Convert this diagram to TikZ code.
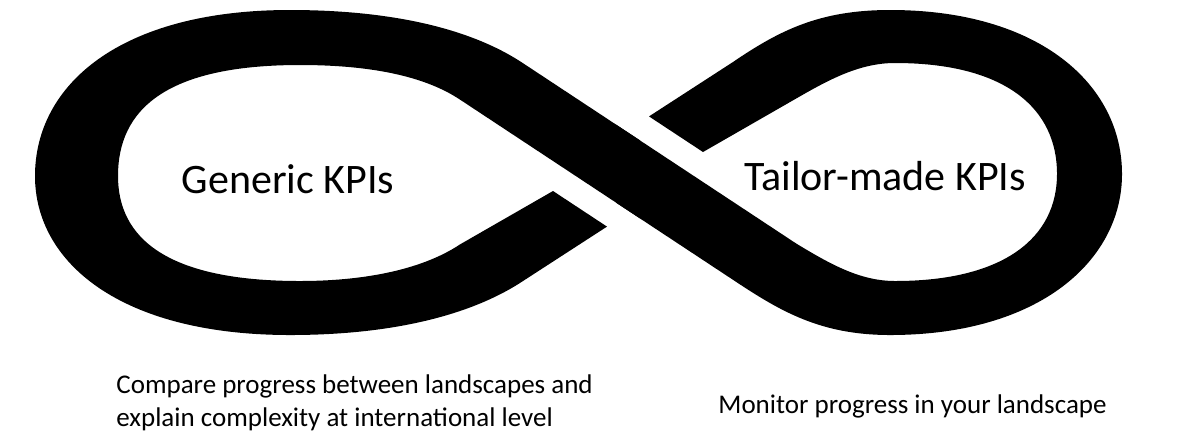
\documentclass[tikz,border=0pt]{standalone}
\usepackage{fontspec}
\setmainfont{Carlito}
\usepackage{tikz}
\usetikzlibrary{positioning}

\tikzset{
  loopband/.style={fill=black,draw=none},
  kpi/.style={inner sep=0pt,font=\fontsize{21}{25}\selectfont},
  note/.style={inner sep=0pt,align=left,font=\fontsize{13.5}{16.5}\selectfont}
}

\begin{document}
\begin{tikzpicture}[x=0.5pt,y=-0.5pt]
    \useasboundingbox (0,0) rectangle (1202,436);
    % left loop, with the upper half of the crossing
    \fill[loopband] (640,140.4) -- (523,63.2)
        .. controls (470,28) and (390,10) .. (290,10)
        .. controls (120,10) and (35,85) .. (35,176)
        .. controls (35,262) and (120,335) .. (290,335)
        .. controls (390,335) and (470,316) .. (523,281)
        -- (607,226.6) -- (553,191) -- (460,244.4)
        .. controls (420,271) and (360,281) .. (300,281)
        .. controls (165,281) and (118,237) .. (118,176)
        .. controls (118,110) and (165,65) .. (300,65)
        .. controls (360,65) and (420,73) .. (460,99.6)
        -- (640,218.4) -- cycle;
    % right loop, with the lower half of the crossing
    \fill[loopband] (616,202.6) -- (733,279.8)
        .. controls (780,311) and (820,335) .. (890,335)
        .. controls (1040,335) and (1122,260) .. (1122,174)
        .. controls (1122,85) and (1040,10) .. (890,10)
        .. controls (820,10) and (780,30) .. (733,62)
        -- (649,116.4) -- (703,152) -- (796,98.6)
        .. controls (830,79) and (860,63) .. (895,63)
        .. controls (1005,63) and (1057,108) .. (1057,174)
        .. controls (1057,237) and (1005,281) .. (895,281)
        .. controls (860,281) and (830,264) .. (796,243.4)
        -- (616,124.6) -- cycle;
    \node[kpi,anchor=base] (generic) at (288,193) {Generic KPIs};
    \node[kpi,anchor=base] (tailor) at (885,190) {Tailor-made KPIs};
    \node[note,anchor=base west] (compare) at (116,426) {Compare progress between landscapes and\\explain complexity at international level};
    \node[note,anchor=base west] (monitor) at (718,413) {Monitor progress in your landscape};
\end{tikzpicture}
\end{document}
